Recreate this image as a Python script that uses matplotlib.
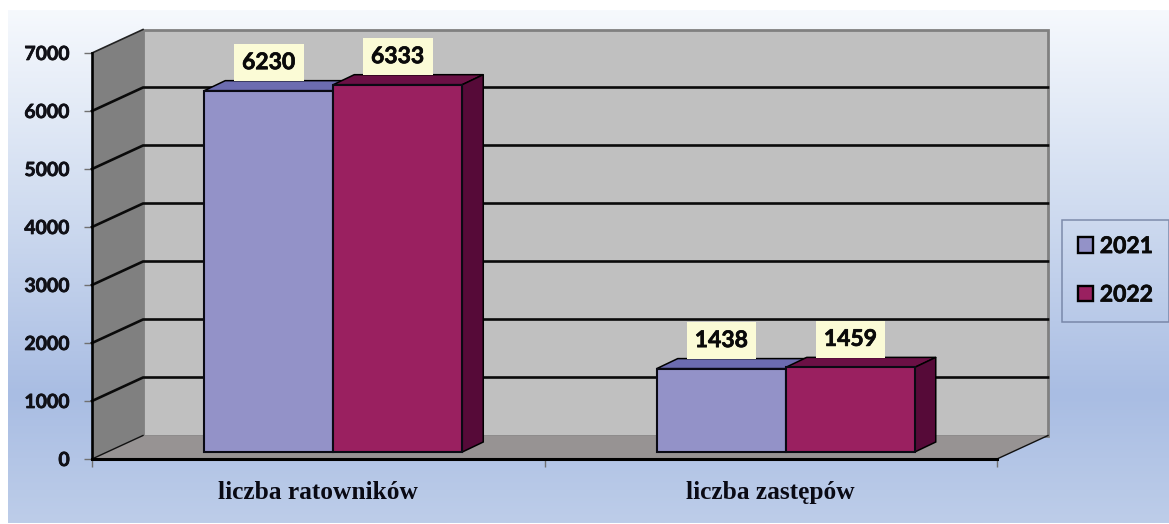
import numpy as np
import matplotlib
matplotlib.use("Agg")
import matplotlib.pyplot as plt
import matplotlib.patheffects as pe
from matplotlib.colors import LinearSegmentedColormap
from matplotlib.patches import Patch

categories = ["liczba ratowników", "liczba zastępów"]
years = ["2021", "2022"]
values_2021 = [6230, 1438]
values_2022 = [6333, 1459]
y_ticks = [0, 1000, 2000, 3000, 4000, 5000, 6000, 7000]

W, H = 1169, 524
fig = plt.figure(figsize=(W / 100, H / 100), dpi=100, facecolor="white")

# gradient background, leaves a white margin top and left
bg = fig.add_axes([8 / W, 1 / H, (W - 8) / W, (H - 11) / H], zorder=0)
cmap = LinearSegmentedColormap.from_list("bg", [(0, "#f6f9fd"), (0.38, "#d0dcf0"),
                                                (0.75, "#a9bde3"), (1, "#bdcde9")])
bg.imshow(np.linspace(0, 1, 256)[:, None], aspect="auto", cmap=cmap)
bg.axis("off")

# front plane of the fake 3D box
ax = fig.add_axes([92 / W, (H - 459) / H, 905 / W, 406 / H], zorder=1)
ax.set_xlim(0, 2)
ax.set_ylim(0, 7000)
ax.patch.set_visible(False)

px_x = 2 / 905
px_y = 7000 / 406
depth_x = 51 * px_x
depth_y = 23.5 * px_y

# heavier strokes for the numbers, the reference font is quite fat
fat = [pe.withStroke(linewidth=0.5, foreground="#0a0a0a")]

# walls
ax.fill([depth_x, 2 + depth_x, 2 + depth_x, depth_x],
        [depth_y, depth_y, 7000 + depth_y, 7000 + depth_y],
        fc="#c0c0c0", ec="#808080", lw=2, clip_on=False, zorder=1)
ax.fill([0, depth_x, depth_x, 0], [0, depth_y, 7000 + depth_y, 7000],
        fc="#808080", ec="none", clip_on=False, zorder=1)
ax.fill([0, 2, 2 + depth_x, depth_x], [0, 0, depth_y, depth_y],
        fc="#979393", ec="none", clip_on=False, zorder=1)

# gridlines on the back and side walls
for t in y_ticks[1:-1]:
    ax.plot([0, depth_x, 2 + depth_x], [t, t + depth_y, t + depth_y],
            color="#0a0a0a", lw=1.9, clip_on=False, zorder=2)
ax.plot([0, depth_x], [7000, 7000 + depth_y], color="#222222", lw=1.2, clip_on=False, zorder=2)
ax.plot([0, depth_x], [0, depth_y], color="#111111", lw=1, clip_on=False, zorder=2)
ax.plot([2, 2 + depth_x], [0, depth_y], color="#111111", lw=1, clip_on=False, zorder=2)

# bars
bar_w = 129 * px_x
bar_shift = 15 * px_x
bar_floor = 7 * px_y
side_x = 21 * px_x
side_y = 10 * px_y
series = [(values_2021, "#9392c8", "#6c6cb0", "#4f4f90", -0.5),
          (values_2022, "#9a2060", "#6b1045", "#560a38", 0.5)]
x_cat = np.array([0.5, 1.5]) + bar_shift

for vals, front, top, side, k in series:
    for xc, v in zip(x_cat, vals):
        left = xc + (k - 0.5) * bar_w
        right = left + bar_w
        y_top = v + bar_floor
        ax.fill([left, right, right + side_x, left + side_x],
                [y_top, y_top, y_top + side_y, y_top + side_y],
                fc=top, ec="black", lw=1.1, clip_on=False, zorder=3, joinstyle="round")
        ax.fill([right, right + side_x, right + side_x, right],
                [bar_floor, bar_floor + side_y, y_top + side_y, y_top],
                fc=side, ec="black", lw=1.1, clip_on=False, zorder=3)
        ax.bar(left, v, bar_w, bottom=bar_floor, align="edge", color=front,
               edgecolor="#0a0a14", lw=1.5, clip_on=False, zorder=4)
        t = ax.annotate(str(v), (left + bar_w / 2, y_top), xytext=(0, 28 / 100 * 72),
                        textcoords="offset points", ha="center", va="center",
                        fontsize=16.5, fontweight="bold", family="Lato", color="#0a0a0a",
                        bbox=dict(boxstyle="square,pad=0.36", fc="#fbfbd6", ec="none"),
                        zorder=6, annotation_clip=False)
        t.set_path_effects(fat)

# axes
for s in ["top", "right"]:
    ax.spines[s].set_visible(False)
ax.spines["left"].set_linewidth(1.9)
ax.spines["bottom"].set_linewidth(2.2)
ax.spines["left"].set_zorder(5)
ax.spines["bottom"].set_zorder(5)
ax.set_yticks(y_ticks)
ax.set_yticklabels([str(t) for t in y_ticks], fontsize=14, fontweight="bold",
                   family="Lato", color="#101018", path_effects=fat)
ax.tick_params(axis="y", length=5.5, width=1, color="#707070", pad=10.5)
ax.set_xticks([0, 1, 2])
ax.set_xticklabels([])
ax.tick_params(axis="x", length=6, width=1, color="#707070")
ax.set_xticks([0.5, 1.5], categories, minor=True, fontsize=18.3, fontweight="bold",
              family="Liberation Serif", color="#0a0a14")
ax.tick_params(axis="x", which="minor", length=0, pad=16)

handles = [Patch(fc="#9392c8", ec="black", lw=1.7), Patch(fc="#9a2060", ec="black", lw=1.7)]
leg = fig.legend(handles, years, loc="upper left",
                 bbox_to_anchor=(1062 / W, (H - 220) / H), borderaxespad=0,
                 prop=dict(family="Lato", weight="bold", size=16.5), frameon=True,
                 handlelength=0.65, handleheight=0.65, handletextpad=0.3,
                 labelspacing=1.2, borderpad=0.7, fancybox=False)
leg.get_frame().set(facecolor="none", edgecolor="#69789a", linewidth=1.1)
for txt in leg.get_texts():
    txt.set_color("#0a0a0a")
    txt.set_path_effects(fat)

fig.savefig("out.png", dpi=100)
